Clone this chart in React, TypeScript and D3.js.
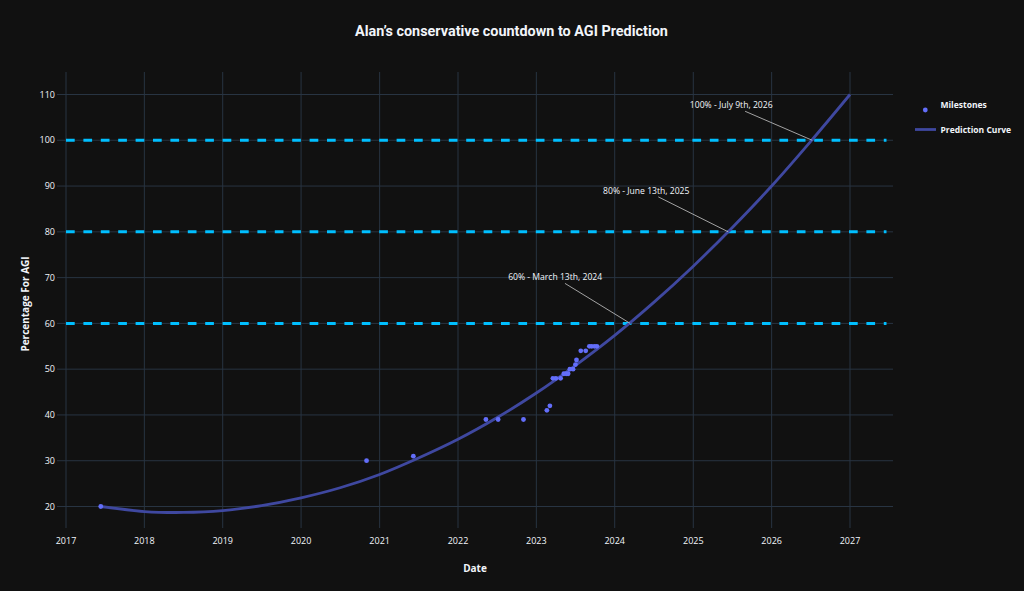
import React from "react";
import * as d3 from "d3";

const milestoneDates = [
  "2017-06-12", "2020-11-01", "2021-06-07", "2022-05-11", "2022-07-07", "2022-11-02",
  "2023-02-19", "2023-03-05", "2023-03-19", "2023-04-02", "2023-04-24", "2023-05-09",
  "2023-05-20", "2023-05-29", "2023-06-06", "2023-06-21", "2023-07-02", "2023-07-07",
  "2023-07-27", "2023-08-19", "2023-09-05", "2023-09-16", "2023-09-29", "2023-10-10",
];
const milestoneValues = [20, 30, 31, 39, 39, 39, 41, 42, 48, 48, 48, 49, 49, 49, 50, 50, 51, 52, 54, 54, 55, 55, 55, 55];

const curveDates = [
  "2017-06-12", "2018-01-01", "2018-07-01", "2019-01-01", "2019-07-01", "2020-01-01",
  "2020-07-01", "2021-01-01", "2021-07-01", "2022-01-01", "2022-07-01", "2023-01-01",
  "2023-07-01", "2024-01-01", "2024-07-01", "2025-01-01", "2025-07-01", "2026-01-01",
  "2026-07-01", "2027-01-01",
];
const curveValues = [20, 18.9, 18.7, 19.1, 20.2, 21.9, 24.1, 27.0, 30.6, 34.7, 39.4, 44.8, 50.8, 57.4, 64.6, 72.5, 80.9, 90.0, 99.7, 110];

const thresholdValues = [60, 80, 100];
const thresholdStart = "2017-01-01";
const thresholdEnd = "2027-06-20";

const annotationLabels = ["60% - March 13th, 2024", "80% - June 13th, 2025", "100% - July 9th, 2026"];
const annotationDates = ["2024-03-13", "2025-06-13", "2026-07-09"];
const annotationValues = [60, 80, 100];

const xTickYears = [2017, 2018, 2019, 2020, 2021, 2022, 2023, 2024, 2025, 2026, 2027];
const yTicks = [20, 30, 40, 50, 60, 70, 80, 90, 100, 110];

const W = 1024;
const H = 591;
const plot = { left: 57, right: 893, top: 72, bottom: 528 };
const BG = "#111111";
const GRID = "#283442";
const TXT = "#f2f5fa";
const MARKER = "#636efa";
const LINE = "#3f48a0";
const DASH = "#00bfff";
const FONT = "'Open Sans', sans-serif";

export default function App() {
  const parse = d3.timeParse("%Y-%m-%d");
  const x = d3
    .scaleTime()
    .domain([new Date(2017, 0, 1), new Date(2027, 0, 1)])
    .range([66, 850]);
  const y = d3.scaleLinear().domain([20, 110]).range([506.5, 94.5]);

  const curve = curveDates.map((d, i) => ({ d: parse(d)!, v: curveValues[i] }));
  const line = d3
    .line<{ d: Date; v: number }>()
    .x((p) => x(p.d))
    .y((p) => y(p.v))
    .curve(d3.curveCatmullRom.alpha(0.5));

  const offsets = [
    { dx: -75, dy: -46 },
    { dx: -82, dy: -41 },
    { dx: -81, dy: -35 },
  ];

  return (
    <svg width={W} height={H} style={{ display: "block", position: "absolute", left: 0, top: 0 }}>
      <rect x={0} y={0} width={W} height={H} fill={BG} />
      <defs>
        <clipPath id="plotclip">
          <rect x={plot.left} y={plot.top} width={plot.right - plot.left} height={plot.bottom - plot.top} />
        </clipPath>
      </defs>
      {xTickYears.map((yr) => {
        const px = x(new Date(yr, 0, 1));
        return <line key={"gx" + yr} x1={px} x2={px} y1={plot.top} y2={plot.bottom} stroke={GRID} strokeWidth={1} />;
      })}
      {yTicks.map((t) => (
        <line key={"gy" + t} x1={plot.left} x2={plot.right} y1={y(t)} y2={y(t)} stroke={GRID} strokeWidth={1} />
      ))}
      {xTickYears.map((yr) => (
        <text
          key={"tx" + yr}
          x={x(new Date(yr, 0, 1))}
          y={544}
          textAnchor="middle"
          fontFamily={FONT}
          fontSize={9}
          fill={TXT}
        >
          {yr}
        </text>
      ))}
      {yTicks.map((t) => (
        <text key={"ty" + t} x={55} y={y(t) + 3.2} textAnchor="end" fontFamily={FONT} fontSize={9} fill={TXT}>
          {t}
        </text>
      ))}
      <g clipPath="url(#plotclip)">
        {thresholdValues.map((v) => (
          <line
            key={"th" + v}
            x1={x(parse(thresholdStart)!)}
            x2={x(parse(thresholdEnd)!)}
            y1={y(v)}
            y2={y(v)}
            stroke={DASH}
            strokeWidth={3}
            strokeDasharray="8.7,8.7"
          />
        ))}
        <path d={line(curve) || ""} fill="none" stroke={LINE} strokeWidth={2.8} />
        {milestoneDates.map((d, i) => (
          <circle key={"m" + i} cx={x(parse(d)!)} cy={y(milestoneValues[i])} r={2.4} fill={MARKER} />
        ))}
      </g>
      {annotationLabels.map((lab, i) => {
        const tx = x(parse(annotationDates[i])!);
        const ty = y(annotationValues[i]);
        const cx = tx + offsets[i].dx;
        const cy = ty + offsets[i].dy;
        const boxHalf = 6;
        const frac = (ty - (cy + boxHalf)) / (ty - cy);
        const sx = tx + (cx - tx) * frac;
        const sy = cy + boxHalf;
        return (
          <g key={"an" + i}>
            <line x1={sx} y1={sy} x2={tx} y2={ty} stroke="#c8c8c8" strokeWidth={0.8} />
            <text x={cx} y={cy + 3} textAnchor="middle" fontFamily={FONT} fontSize={8.6} fill={TXT}>
              {lab}
            </text>
          </g>
        );
      })}
      <text x={511.5} y={35.5} textAnchor="middle" fontFamily="Roboto, sans-serif" fontWeight="bold" fontSize={14.4} fill={TXT}>
        Alan’s conservative countdown to AGI Prediction
      </text>
      <text x={475} y={571.5} textAnchor="middle" fontFamily={FONT} fontWeight="bold" fontSize={10} fill={TXT}>
        Date
      </text>
      <text
        transform={`translate(29,304) rotate(-90)`}
        textAnchor="middle"
        fontFamily={FONT}
        fontWeight="bold"
        fontSize={10}
        fill={TXT}
      >
        Percentage For AGI
      </text>
      <circle cx={925.3} cy={110} r={2.4} fill={MARKER} />
      <text x={940.5} y={108} fontFamily={FONT} fontWeight="bold" fontSize={8.5} fill={TXT}>
        Milestones
      </text>
      <line x1={915} x2={936} y1={129.5} y2={129.5} stroke={LINE} strokeWidth={2.8} />
      <text x={940.5} y={133} fontFamily={FONT} fontWeight="bold" fontSize={8.5} fill={TXT}>
        Prediction Curve
      </text>
    </svg>
  );
}
